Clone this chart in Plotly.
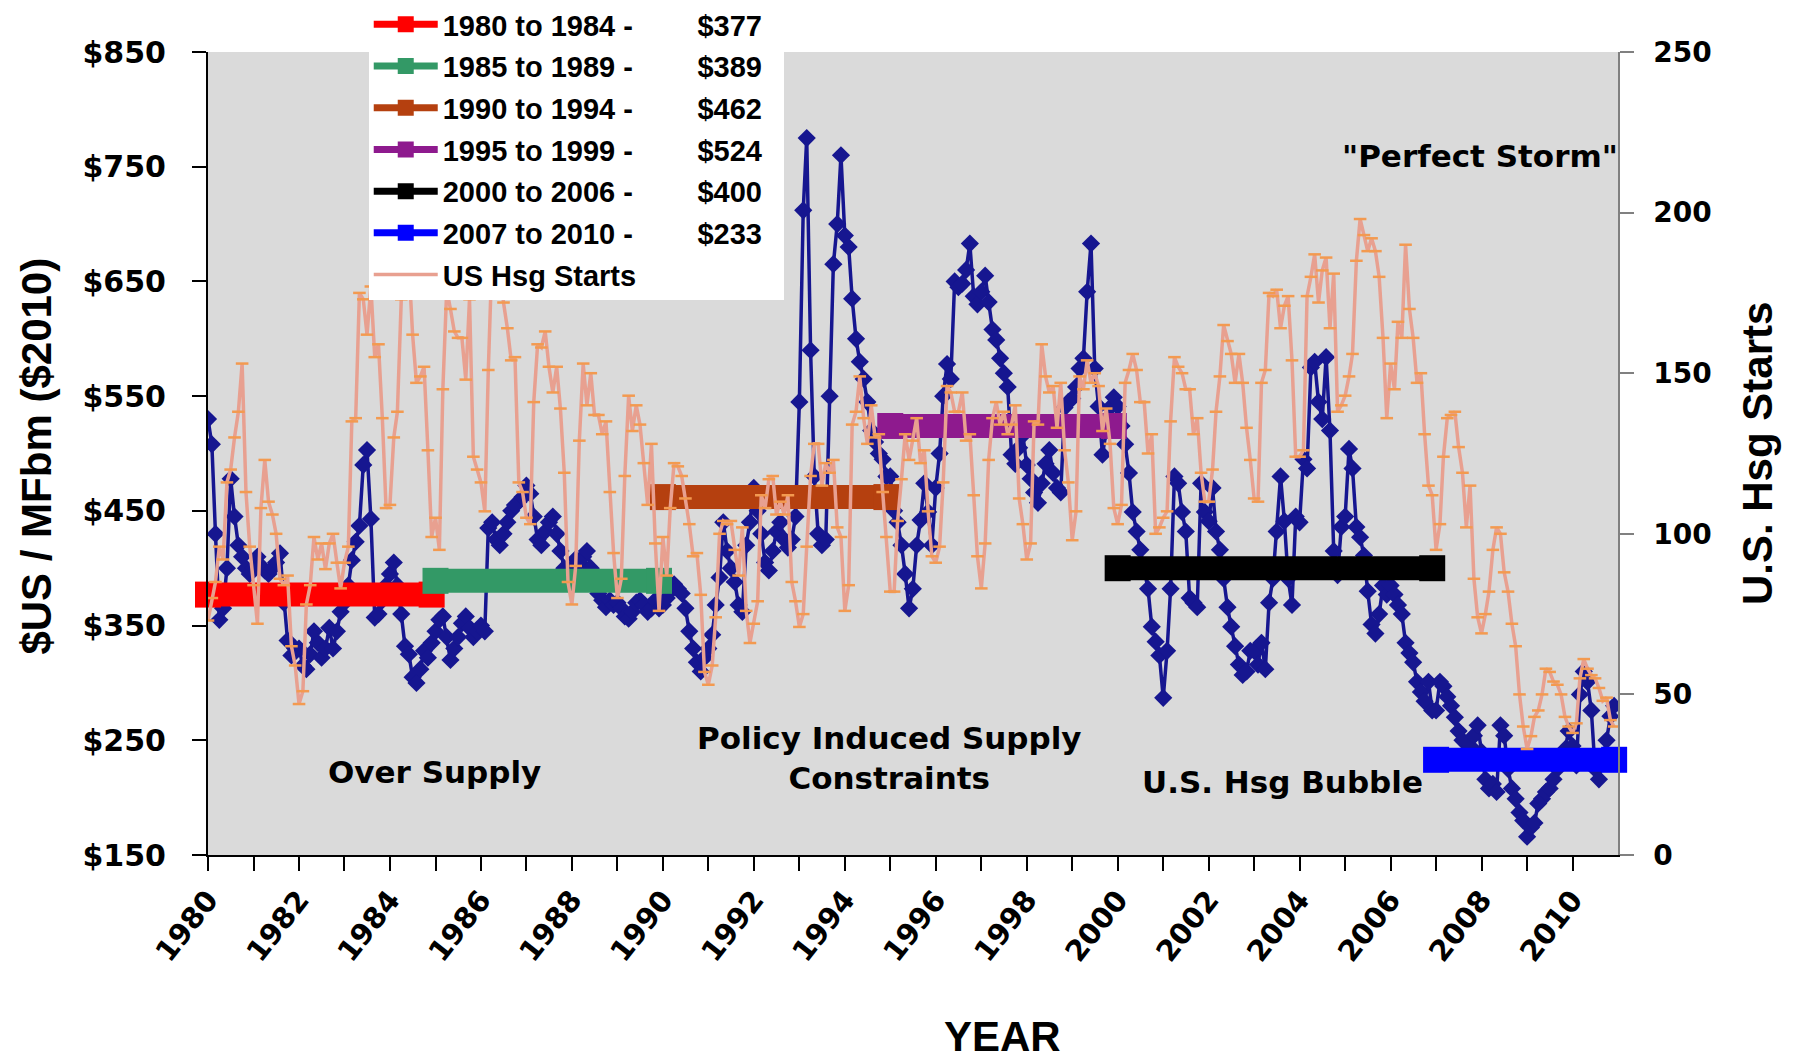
import pandas as pd
import plotly.graph_objects as go

# Monthly observations, Jan 1980 - Dec 2010
months = pd.date_range("1980-01-01", "2010-12-01", freq="MS")

# Framing lumber price, $US / MFbm in 2010 dollars (one row per year)
lumber_price = [
    530, 508, 430, 355, 365, 400, 478, 445, 420, 410, 400, 395,  # 1980
    400, 410, 402, 398, 395, 400, 405, 413, 370, 337, 324, 330,  # 1981
    330, 315, 312, 325, 345, 335, 322, 330, 348, 330, 345, 362,  # 1982
    370, 385, 407, 423, 437, 490, 503, 443, 357, 360, 372, 385,  # 1983
    395, 405, 385, 360, 332, 325, 305, 300, 312, 328, 322, 335,  # 1984
    345, 355, 358, 340, 320, 330, 340, 352, 358, 348, 340, 345,  # 1985
    350, 345, 435, 440, 425, 420, 430, 440, 450, 455, 458, 462,  # 1986
    472, 465, 445, 425, 420, 432, 440, 445, 430, 415, 400, 398,  # 1987
    400, 408, 405, 410, 415, 400, 388, 378, 372, 366, 372, 368,  # 1988
    370, 365, 358, 356, 362, 370, 372, 368, 362, 365, 372, 365,  # 1989
    368, 374, 380, 386, 382, 378, 365, 345, 330, 318, 310, 322,  # 1990
    330, 342, 368, 392, 440, 415, 400, 388, 368, 362, 420, 440,  # 1991
    470, 450, 430, 405, 398, 415, 432, 440, 425, 418, 425, 445,  # 1992
    545, 712, 775, 590, 480, 430, 420, 425, 550, 665, 700, 760,  # 1993
    690, 680, 635, 600, 580, 565, 545, 520, 510, 500, 495, 480,  # 1994
    480, 450, 440, 420, 395, 365, 382, 420, 442, 474, 449, 420,  # 1995
    470, 500, 550, 578, 565, 650, 645, 648, 660, 683, 637, 630,  # 1996
    641, 655, 632, 608, 599, 583, 570, 558, 499, 491, 505, 516,  # 1997
    490, 478, 466, 457, 474, 491, 503, 483, 470, 466, 540, 545,  # 1998
    548, 558, 574, 583, 641, 683, 574, 541, 499, 520, 540, 549,  # 1999
    541, 524, 508, 483, 449, 432, 416, 399, 382, 349, 336, 324,  # 2000
    287, 328, 382, 480, 474, 449, 432, 374, 370, 366, 474, 449,  # 2001
    441, 470, 432, 416, 391, 366, 349, 332, 316, 307, 310, 328,  # 2002
    328, 316, 335, 312, 370, 391, 432, 480, 441, 391, 368, 445,  # 2003
    440, 495, 487, 575, 580, 545, 530, 584, 520, 415, 394, 436,  # 2004
    445, 504, 487, 436, 427, 411, 380, 351, 343, 360, 385, 377,  # 2005
    385, 377, 368, 360, 335, 326, 318, 301, 292, 284, 301, 276,  # 2006
    276, 301, 297, 288, 280, 270, 258, 250, 233, 245, 254, 263,  # 2007
    240, 216, 208, 212, 205, 263, 254, 225, 208, 199, 187, 180,  # 2008
    166, 174, 178, 195, 199, 205, 208, 216, 225, 235, 242, 258,  # 2009
    245, 228, 290, 310, 301, 276, 225, 216, 233, 250, 271, 280,  # 2010
]

# U.S. housing starts, thousands of units, not seasonally adjusted
housing_starts = [
    73, 80, 85, 96, 92, 116, 120, 130, 138, 153, 113, 96,        # 1980
    84, 72, 108, 123, 110, 106, 100, 86, 84, 87, 65, 59,         # 1981
    47, 51, 78, 84, 99, 92, 97, 89, 97, 100, 91, 83,             # 1982
    91, 96, 135, 136, 175, 173, 162, 177, 155, 159, 136, 108,    # 1983
    109, 130, 138, 173, 181, 184, 162, 147, 149, 152, 126, 99,   # 1984
    105, 95, 145, 176, 170, 163, 161, 161, 148, 173, 124, 120,   # 1985
    116, 107, 151, 188, 187, 184, 172, 164, 154, 155, 116, 113,  # 1986
    105, 103, 141, 159, 158, 163, 152, 144, 152, 139, 119, 85,   # 1987
    78, 90, 129, 153, 140, 150, 137, 137, 131, 135, 113, 94,     # 1988
    80, 86, 118, 143, 132, 140, 134, 122, 109, 128, 97, 76,      # 1989
    99, 87, 108, 122, 121, 118, 111, 103, 93, 94, 81, 57,        # 1990
    53, 59, 74, 100, 104, 103, 104, 95, 87, 102, 76, 66,         # 1991
    72, 79, 112, 108, 117, 118, 106, 110, 106, 112, 85, 79,      # 1992
    71, 75, 96, 118, 128, 128, 115, 122, 119, 123, 102, 99,      # 1993
    76, 84, 134, 138, 149, 136, 128, 140, 130, 131, 113, 99,     # 1994
    82, 82, 104, 117, 131, 123, 129, 136, 122, 126, 107, 93,     # 1995
    91, 96, 116, 146, 144, 138, 138, 144, 129, 131, 112, 93,     # 1996
    83, 97, 123, 136, 141, 134, 138, 131, 134, 140, 111, 103,    # 1997
    92, 97, 135, 134, 159, 149, 144, 146, 133, 147, 126, 116,    # 1998
    98, 107, 149, 145, 154, 147, 150, 146, 132, 139, 128, 108,   # 1999
    103, 109, 147, 151, 156, 151, 141, 141, 125, 131, 100, 102,  # 2000
    105, 107, 135, 155, 152, 150, 145, 145, 131, 136, 119, 110,  # 2001
    110, 120, 138, 149, 165, 160, 156, 147, 156, 147, 133, 123,  # 2002
    111, 110, 147, 151, 175, 174, 176, 164, 171, 174, 154, 124,  # 2003
    124, 126, 174, 180, 187, 172, 182, 186, 164, 181, 138, 140,  # 2004
    143, 149, 156, 185, 198, 193, 188, 192, 188, 180, 161, 136,  # 2005
    153, 145, 166, 161, 190, 170, 161, 147, 150, 131, 115, 112,  # 2006
    95, 103, 124, 136, 137, 138, 127, 119, 102, 115, 86, 74,     # 2007
    69, 75, 82, 95, 102, 100, 88, 82, 72, 65, 50, 40,            # 2008
    33, 37, 43, 45, 50, 58, 57, 54, 53, 50, 43, 40,              # 2009
    38, 41, 55, 61, 58, 56, 55, 52, 48, 49, 42, 40,              # 2010
]

# Average real lumber price for each period
period_labels = ["1980 to 1984", "1985 to 1989", "1990 to 1994",
                 "1995 to 1999", "2000 to 2006", "2007 to 2010"]
period_start = ["1980-01-01", "1985-01-01", "1990-01-01",
                "1995-01-01", "2000-01-01", "2007-01-01"]
period_end = ["1984-12-01", "1989-12-01", "1994-12-01",
              "1999-12-01", "2006-12-01", "2010-12-01"]
period_avg = [377, 389, 462, 524, 400, 233]
period_colors = ["#FF0000", "#339966", "#B5400F", "#8E1A8E", "#000000", "#0000FF"]

tick_years = list(range(1980, 2011))
tick_text = [str(y) if y % 2 == 0 else "" for y in tick_years]

BOLD_WIDE = "DejaVu Sans"
BOLD_ARIAL = "Liberation Sans, Arial, sans-serif"
NBSP = "\u00a0"

fig = go.Figure()

# Lumber price series (left axis)
fig.add_trace(go.Scatter(
    x=months, y=lumber_price, mode="lines+markers",
    line=dict(color="#161690", width=3.5),
    marker=dict(symbol="diamond", size=14, color="#161690"),
    showlegend=False, name="Lumber price",
))

# Period average bars
for lbl, s, e, v, c in zip(period_labels, period_start, period_end, period_avg, period_colors):
    fig.add_trace(go.Scatter(
        x=[s, e], y=[v, v], mode="lines+markers",
        line=dict(color=c, width=24),
        marker=dict(symbol="square", size=26, color=c),
        cliponaxis=False, showlegend=False, hoverinfo="skip",
    ))

# Legend entries for the period averages
for i, (lbl, v, c) in enumerate(zip(period_labels, period_avg, period_colors)):
    fig.add_trace(go.Scatter(
        x=[None], y=[None], mode="lines+markers",
        line=dict(color=c, width=7),
        marker=dict(symbol="square", size=16, color=c),
        name=f"{lbl} -{NBSP * 8}${v}{NBSP * 2}",
        legendgroup=f"g{i}",
    ))

# Housing starts (right axis)
fig.add_trace(go.Scatter(
    x=months, y=housing_starts, mode="lines+markers", yaxis="y2",
    line=dict(color="#E8A090", width=3.5),
    marker=dict(symbol="line-ew", size=9, line=dict(color="#F39A50", width=2.5)),
    name="US Hsg Starts", legendgroup="g9", showlegend=False,
))
fig.add_trace(go.Scatter(
    x=[None], y=[None], mode="lines", yaxis="y2",
    line=dict(color="#E8A090", width=3.5),
    name="US Hsg Starts", legendgroup="g9",
))

annotations = [
    dict(text="Over Supply", x=0.1603, y=0.1031),
    dict(text="Policy Induced Supply<br>Constraints", x=0.4830, y=0.1205),
    dict(text="U.S. Hsg Bubble", x=0.7624, y=0.0906),
    dict(text="\"Perfect Storm\"", x=0.9021, y=0.870),
]
for a in annotations:
    a.update(xref="paper", yref="paper", showarrow=False, xanchor="center", yanchor="middle",
             font=dict(family=BOLD_WIDE, size=31, color="black", weight="bold"))

annotations += [
    dict(text="$US / MFbm ($2010)", x=-0.1215, y=0.497, textangle=-90,
         xref="paper", yref="paper", showarrow=False, xanchor="center", yanchor="middle",
         font=dict(family=BOLD_ARIAL, size=42, color="black", weight="bold")),
    dict(text="U.S. Hsg Starts", x=1.0991, y=0.5002, textangle=-90,
         xref="paper", yref="paper", showarrow=False, xanchor="center", yanchor="middle",
         font=dict(family=BOLD_ARIAL, size=42, color="black", weight="bold")),
    dict(text="YEAR", x=0.5633, y=-0.2260,
         xref="paper", yref="paper", showarrow=False, xanchor="center", yanchor="middle",
         font=dict(family=BOLD_ARIAL, size=42, color="black", weight="bold")),
]

fig.update_layout(
    width=1799, height=1062,
    margin=dict(l=208, r=181, t=52, b=207, autoexpand=False),
    paper_bgcolor="white",
    plot_bgcolor="#DADADA",
    annotations=annotations,
    legend=dict(
        x=0.114, y=1.066, xanchor="left", yanchor="top",
        bgcolor="white", borderwidth=0,
        font=dict(family=BOLD_ARIAL, size=29, color="black", weight="bold"),
        itemwidth=64, traceorder="grouped", tracegroupgap=1,
    ),
    xaxis=dict(
        type="date", range=["1980-01-01", "2011-01-01"],
        tickvals=[f"{y}-01-01" for y in tick_years], ticktext=tick_text,
        tickangle=-52, ticks="outside", ticklen=14, tickwidth=1.5, tickcolor="black",
        showline=True, linecolor="black", linewidth=2, showgrid=False, zeroline=False,
        tickfont=dict(family=BOLD_WIDE, size=29, color="black", weight="bold"),
    ),
    yaxis=dict(
        range=[150, 850], dtick=100, tick0=150, tickprefix="$",
        ticks="outside", ticklen=14, tickwidth=1.5, tickcolor="black",
        showline=True, linecolor="black", linewidth=2, showgrid=False, zeroline=False,
        ticklabelstandoff=20,
        tickfont=dict(family=BOLD_WIDE, size=30, color="black", weight="bold"),
    ),
    yaxis2=dict(
        range=[0, 250], dtick=50, overlaying="y", side="right",
        ticks="outside", ticklen=14, tickwidth=1.5, tickcolor="#808080",
        showline=True, linecolor="#808080", linewidth=1.5, showgrid=False, zeroline=False,
        ticklabelstandoff=14,
        tickfont=dict(family=BOLD_WIDE, size=28, color="black", weight="bold"),
    ),
)

fig.write_html("out.html")
